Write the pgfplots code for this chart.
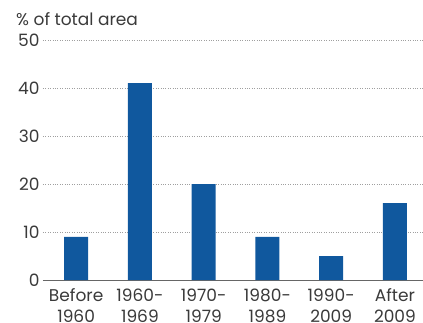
\documentclass[border=0pt]{standalone}
\usepackage{pgfplots}
\pgfplotsset{compat=1.18}
\usepackage{fontspec}
\setmainfont{Poppins}
\definecolor{barblue}{HTML}{10589E}
\definecolor{txt}{HTML}{3A3A3A}
\begin{document}
\begin{tikzpicture}[x=1pt,y=1pt]
\clip (0,0) rectangle (423,322);
\begin{axis}[
  at={(43pt,42pt)}, anchor=south west,
  scale only axis, width=380pt, height=240pt,
  xmin=-0.52, xmax=5.44, ymin=0, ymax=50,
  ytick={0,10,...,50},
  xtick={0,...,5},
  xticklabels={{Before\\1960},{1960-\\1969},{1970-\\1979},{1980-\\1989},{1990-\\2009},{After\\2009}},
  xticklabel style={align=center, text=txt, font=\fontsize{17}{21}\selectfont, yshift=-5pt},
  yticklabel style={text=txt, font=\fontsize{17}{19}\selectfont, xshift=0pt},
  /pgf/number format/assume math mode=true,
  axis x line*=bottom, axis y line*=left,
  y axis line style={draw=none},
  x axis line style={draw=gray!80!black, line width=0.8pt},
  major tick length=0pt,
  ymajorgrids, grid style={dotted, gray!75, line width=0.6pt},
  ybar, bar width=24pt,
]
\addplot[fill=barblue, draw=none] coordinates {(0,9) (1,41) (2,20) (3,9) (4,5) (5,16)};
\end{axis}
\node[anchor=base west, text=txt, font=\fontsize{17}{19}\selectfont, inner sep=0pt] at (16,296) {\% of total area};
\end{tikzpicture}
\end{document}
